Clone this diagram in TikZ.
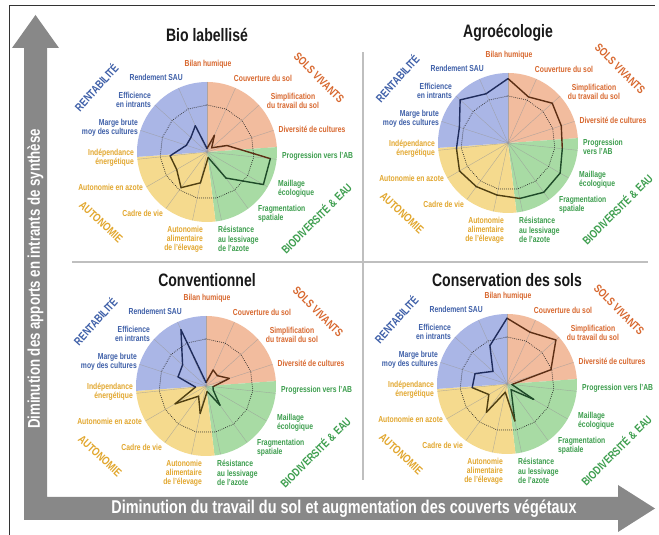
\documentclass[tikz,border=0pt]{standalone}
\usepackage{fontspec}
\setmainfont{Liberation Sans}[FakeStretch=0.78]
\definecolor{bluefill}{HTML}{AAB6E6}
\definecolor{orangefill}{HTML}{F2BC9E}
\definecolor{greenfill}{HTML}{A8DBA4}
\definecolor{yellowfill}{HTML}{F5DA8E}
\definecolor{bluelab}{HTML}{3E5FA8}
\definecolor{orangelab}{HTML}{D8682F}
\definecolor{greenlab}{HTML}{3D9E4E}
\definecolor{yellowlab}{HTML}{E2A72E}
\definecolor{linec0}{HTML}{5C2E14}
\definecolor{linec1}{HTML}{1E4A28}
\definecolor{linec2}{HTML}{4F3F12}
\definecolor{linec3}{HTML}{1F2C5C}
\definecolor{arrowgrey}{HTML}{888888}
\newcommand\radarchart[5]{%
\begin{scope}[shift={(#2,#3)}]
\fill[orangefill](0,0)--(4:70)arc(4:90:70)--cycle;
\fill[greenfill](0,0)--(-83:70)arc(-83:4:70)--cycle;
\fill[yellowfill](0,0)--(-176:70)arc(-176:-83:70)--cycle;
\fill[bluefill](0,0)--(90:70)arc(90:184:70)--cycle;
\foreach \k in {0,...,14} \draw[spoke](0,0)--({90-24*\k}:70);
\draw[refline](90:47)\foreach \k in {1,...,14}{--({90-24*\k}:47)}--cycle;
% scores
\foreach \r [count=\k from 0] in {#5} \coordinate(#1-p\k) at ({90-24*\k}:{\r*70});
\foreach \k in {0,...,14}{
  \pgfmathtruncatemacro\nxt{mod(\k+1,15)}
  \pgfmathtruncatemacro\grp{(\k>3)+(\k>6)+(\k>10)}
  \draw[score,draw=linec\grp](#1-p\k)--(#1-p\nxt);
}
\node[lab,orangelab](#1-bilan) at (1,88){Bilan humique};
\node[lab,orangelab](#1-couv) at (56,74){Couverture du sol};
\node[lab,orangelab,align=center](#1-simpl) at (86,51){Simplification\\du travail du sol};
\node[lab,orangelab](#1-div) at (105,23){Diversité de cultures};
\node[lab,greenlab,anchor=west,align=left](#1-prog) at (75,-4){#4};
\node[lab,greenlab,anchor=west,align=left](#1-maill) at (71,-37){Maillage\\écologique};
\node[lab,greenlab,anchor=west,align=left](#1-frag) at (51,-62){Fragmentation\\spatiale};
\node[lab,greenlab,anchor=west,align=left](#1-lessiv) at (11,-87){Résistance\\au lessivage\\de l’azote};
\node[lab,yellowlab,anchor=east,align=right](#1-alim) at (-4,-87){Autonomie\\alimentaire\\de l’élevage};
\node[lab,yellowlab,anchor=east](#1-cadre) at (-44,-61){Cadre de vie};
\node[lab,yellowlab,anchor=east](#1-azote) at (-64,-35){Autonomie en azote};
\node[lab,yellowlab,anchor=east,align=right](#1-energ) at (-73,-6){Indépendance\\énergétique};
\node[lab,bluelab,anchor=east,align=right](#1-marge) at (-69,24){Marge brute\\moy des cultures};
\node[lab,bluelab,anchor=east,align=right](#1-effic) at (-56,52){Efficience\\en intrants};
\node[lab,bluelab,anchor=east](#1-rend) at (-24,75){Rendement SAU};
\node[group,bluelab,rotate=48](#1-rent) at (-111,65){RENTABILITÉ};
\node[group,orangelab,rotate=-45](#1-sols) at (112,74){SOLS VIVANTS};
\node[group,greenlab,rotate=45](#1-biod) at (109,-66){BIODIVERSITÉ \& EAU};
\node[group,yellowlab,rotate=-43](#1-auto) at (-106,-70){AUTONOMIE};
\end{scope}}
\begin{document}
\begin{tikzpicture}[x=1pt,y=1pt,
  spoke/.style={draw=black!40,line width=0.4pt,opacity=0.7},
  refline/.style={line width=1pt,dash pattern=on 0pt off 2pt,line cap=round,draw=black!85},
  score/.style={line width=1.4pt,line cap=round,line join=round},
  lab/.style={inner sep=0pt,font=\fontsize{8.7}{9.2}\selectfont\bfseries},
  group/.style={inner sep=0pt,font=\fontsize{11.5}{12}\selectfont\bfseries},
  title/.style={inner sep=0pt,font=\fontsize{18}{20}\selectfont\bfseries,text=black!90},
  axistext/.style={inner sep=0pt,text=white,font=\fontsize{17}{18}\selectfont\bfseries}]
\useasboundingbox(0,0)rectangle(659,535);
\fill[white](0,0)rectangle(659,535);
\draw[black!80,line width=0.8pt](9,0)--(9,530)--(655,530);
% grey L arrow
\fill[arrowgrey](24,487)--(12,487)--(35.5,520)--(59,487)--(47,487)--(47,38)--(618,38)--(618,50)
  --(655,26.5)--(618,3)--(618,15)--(24,15)--cycle;
\node[axistext,rotate=90](yaxis) at (35.5,256){Diminution des apports en intrants de synthèse};
\node[axistext,font=\fontsize{18.5}{19}\selectfont\bfseries](xaxis) at (344,26.5){Diminution du travail du sol et augmentation des couverts végétaux};
\draw[black!25,line width=1.5pt](363,55)--(363,483);
\draw[black!25,line width=1.5pt](72,273)--(648,273);
\radarchart{bio}{207}{383}{Progression vers l’AB}{0.05,0.26,0.09,0.30,0.91,0.93,0.46,0.08,0.45,0.63,0.50,0.53,0.31,0.31,0.41}
\radarchart{agro}{508}{392}{Progression\\vers l’AB}{0.92,0.72,0.85,0.80,0.78,0.86,0.87,0.81,0.76,0.77,0.80,0.74,0.73,0.92,0.77}
\radarchart{conv}{206}{149}{Progression vers l’AB}{0.05,0.25,0.22,0.35,0.10,0.12,0.34,0.08,0.40,0.18,0.51,0.15,0.42,0.45,0.88}
\radarchart{cons}{507}{151}{Progression vers l’AB}{0.94,0.81,0.94,0.66,0.07,0.44,0.10,0.54,0.12,0.50,0.30,0.50,0.48,0.27,0.60}
\node[title](bio-title) at (207,500){Bio labellisé};
\node[title](agro-title) at (508,502){Agroécologie};
\node[title](conv-title) at (207,255){Conventionnel};
\node[title](cons-title) at (507,255){Conservation des sols};
\end{tikzpicture}
\end{document}
